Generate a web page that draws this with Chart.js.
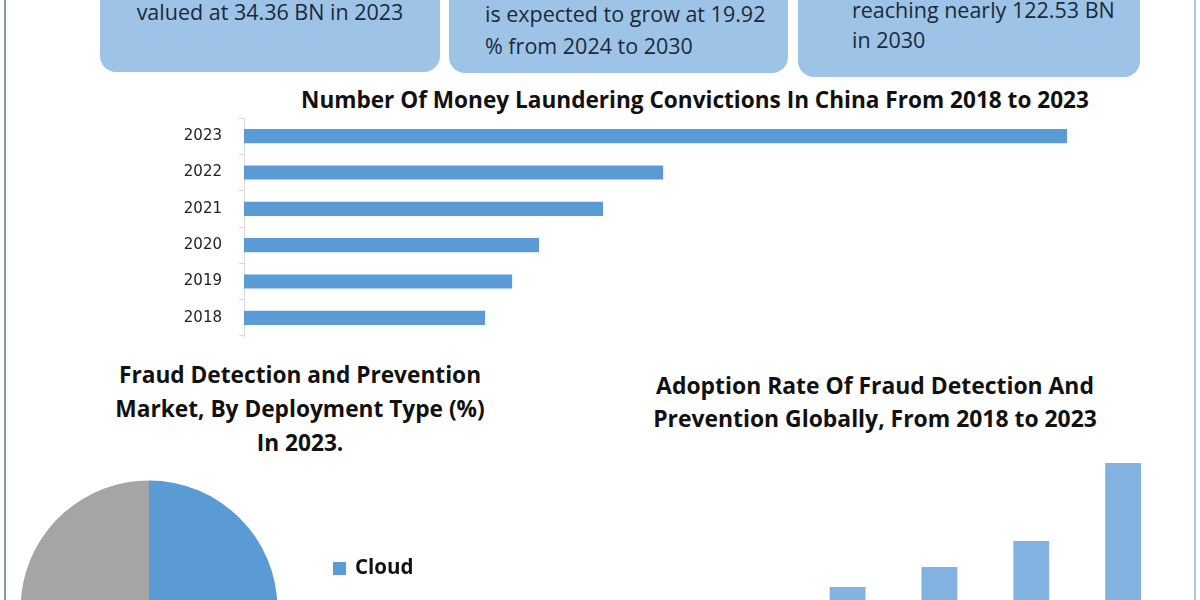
<!DOCTYPE html>
<html>
<head>
<meta charset="utf-8">
<script src="https://cdn.jsdelivr.net/npm/chart.js@4"></script>
<style>
  html, body { margin: 0; padding: 0; background: #fff; }
  body { width: 1200px; height: 600px; overflow: hidden; position: relative; font-family: "Open Sans", sans-serif; color: #1b2a3a; }
  .abs { position: absolute; }
  .box { position: absolute; background: #9dc3e6; border-radius: 16px; }
  .boxText { position: absolute; font-size: 21.5px; white-space: nowrap; }
  .title { position: absolute; font-weight: bold; color: #111; text-align: center; white-space: nowrap; }
  canvas { position: absolute; }
</style>
</head>
<body>
<div class="abs" style="left:4px;top:0;width:2px;height:600px;background:#8198bb;"></div>
<div class="abs" style="left:1194px;top:0;width:2px;height:600px;background:#aac7e6;"></div>

<div class="box" style="left:100px;top:-60px;width:340px;height:132px;"></div>
<div class="box" style="left:449px;top:-60px;width:339px;height:133px;"></div>
<div class="box" style="left:798px;top:-60px;width:342px;height:137px;"></div>

<div class="boxText" style="left:100px;width:340px;top:-4px;line-height:31px;text-align:center;">valued at 34.36 BN in 2023</div>
<div class="boxText" style="left:485px;top:-2px;line-height:32px;">is expected to grow at 19.92<br>% from 2024 to 2030</div>
<div class="boxText" style="left:852px;top:-5px;line-height:30px;">reaching nearly 122.53 BN<br>in 2030</div>

<div class="title" style="left:195px;width:1000px;top:84px;font-size:22.6px;line-height:32px;">Number Of Money Laundering Convictions In China From 2018 to 2023</div>
<div class="title" style="left:50px;width:500px;top:358px;font-size:22.7px;line-height:34px;">Fraud Detection and Prevention<br>Market, By Deployment Type (%)<br>In 2023.</div>
<div class="title" style="left:625px;width:500px;top:369px;font-size:22.9px;line-height:33px;">Adoption Rate Of Fraud Detection And<br>Prevention Globally, From 2018 to 2023</div>

<canvas id="convChart" style="left:180px;top:92px;" width="920" height="270"></canvas>
<canvas id="pieChart" style="left:0px;top:470px;" width="520" height="280"></canvas>
<canvas id="adoptChart" style="left:618px;top:440px;" width="551" height="220"></canvas>

<script>
// Money laundering convictions in China
const convYears = ["2018", "2019", "2020", "2021", "2022", "2023"];
const convValues = [870, 968, 1065, 1296, 1513, 2971];

// Deployment type share 2023 (%)
const deployLabels = ["Cloud", "On-Premise"];
const deployShares = [54, 46];

// Adoption rate globally (%)
const adoptYears = ["2018", "2019", "2020", "2021", "2022", "2023"];
const adoptValues = [14, 21, 31.5, 41.5, 54.5, 93.5];

const blue = "#5b9bd5";

// Horizontal bar chart
new Chart(document.getElementById("convChart").getContext("2d"), {
  type: "bar",
  data: {
    labels: convYears,
    datasets: [{
      data: convValues,
      backgroundColor: blue,
      barPercentage: 0.39,
      categoryPercentage: 1
    }]
  },
  options: {
    indexAxis: "y",
    responsive: false,
    animation: false,
    layout: { padding: 0 },
    plugins: { legend: { display: false }, tooltip: { enabled: false } },
    scales: {
      x: { display: false, min: 0, max: 3090 },
      y: {
        reverse: true,
        afterFit: (axis) => { axis.width = 64; },
        border: { color: "#d9d9d9", width: 1 },
        grid: { offset: true, drawOnChartArea: false, tickLength: 5, color: "#d9d9d9" },
        ticks: { padding: 17, color: "#222", font: { family: "DejaVu Sans", size: 15 } }
      }
    }
  }
});

// Legend drawn beside the pie
const sideLegend = {
  id: "sideLegend",
  afterDraw(chart) {
    const ctx = chart.ctx;
    const ds = chart.data.datasets[0];
    ctx.save();
    ctx.font = "bold 20.5px 'Open Sans'";
    ctx.textBaseline = "middle";
    chart.data.labels.forEach((lbl, i) => {
      const y = 98 + i * 46;
      ctx.fillStyle = ds.backgroundColor[i];
      ctx.fillRect(333, y - 6, 13, 13);
      ctx.fillStyle = "#111";
      ctx.fillText(lbl, 355, y);
    });
    ctx.restore();
  }
};

new Chart(document.getElementById("pieChart").getContext("2d"), {
  type: "pie",
  data: {
    labels: deployLabels,
    datasets: [{
      data: deployShares,
      backgroundColor: [blue, "#a5a5a5"],
      borderWidth: 0
    }]
  },
  options: {
    responsive: false,
    animation: false,
    layout: { padding: { left: 20.5, top: 10.5, right: 242.5, bottom: 12.5 } },
    plugins: { legend: { display: false }, tooltip: { enabled: false } }
  },
  plugins: [sideLegend]
});

// Vertical bar chart
new Chart(document.getElementById("adoptChart").getContext("2d"), {
  type: "bar",
  data: {
    labels: adoptYears,
    datasets: [{
      data: adoptValues,
      backgroundColor: "#83b2e0",
      barPercentage: 0.39,
      categoryPercentage: 1
    }]
  },
  options: {
    responsive: false,
    animation: false,
    layout: { padding: { top: 10, bottom: 10 } },
    plugins: { legend: { display: false }, tooltip: { enabled: false } },
    scales: {
      x: { display: false },
      y: { display: false, min: 0, max: 100 }
    }
  }
});
</script>
</body>
</html>
